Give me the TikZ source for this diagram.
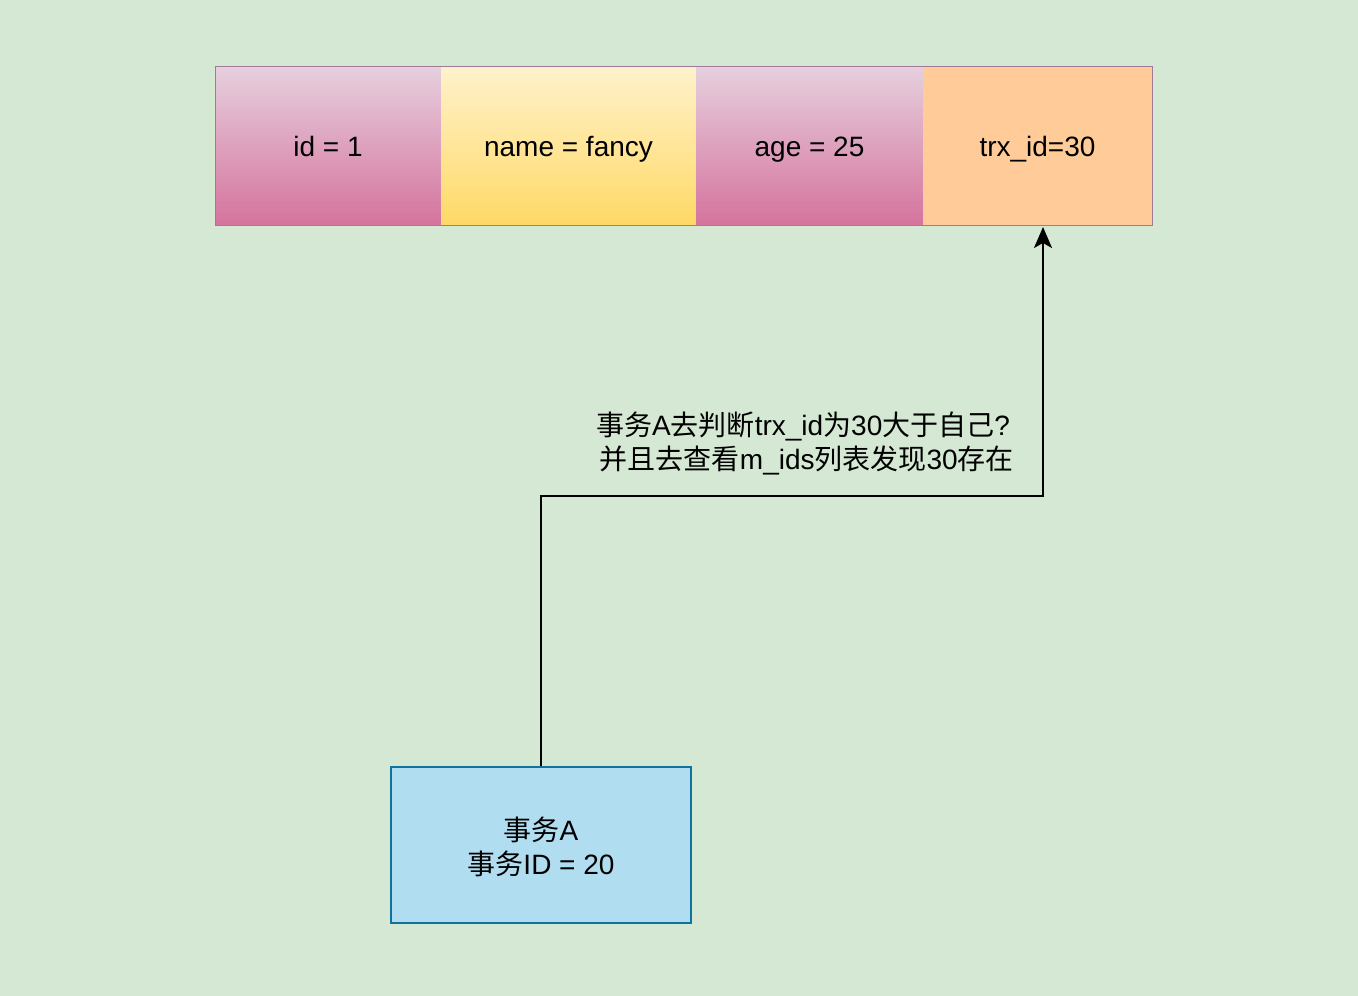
\documentclass[tikz,border=0pt]{standalone}
\usepackage{fontspec}
\setmainfont{Liberation Sans}
\newfontfamily\cjk{Noto Sans CJK SC}
\usetikzlibrary{arrows.meta,shadings}
\definecolor{bgc}{HTML}{D5E8D4}
\definecolor{pinktop}{HTML}{E6D0DE}
\definecolor{pinkbot}{HTML}{D5739D}
\definecolor{yeltop}{HTML}{FFF2CC}
\definecolor{yelbot}{HTML}{FFD966}
\definecolor{orangec}{HTML}{FFCC99}
\definecolor{rowborder}{HTML}{A07A98}
\definecolor{bluefill}{HTML}{B1DDF0}
\definecolor{bluedraw}{HTML}{10739E}
\tikzset{
  cell/.style={rectangle, inner sep=0pt, minimum height=159pt, text height=24pt, text depth=3pt, font=\fontsize{28}{34}\selectfont, text=black},
  pinkcell/.style={cell, top color=pinktop, bottom color=pinkbot},
  yelcell/.style={cell, top color=yeltop, bottom color=yelbot},
  orcell/.style={cell, fill=orangec},
  txbox/.style={rectangle, inner sep=0pt, fill=bluefill, draw=bluedraw, line width=2pt, minimum width=300pt, minimum height=156pt},
  lbl/.style={align=center, inner sep=0pt, font=\fontsize{28}{34}\selectfont},
  conn/.style={line width=2pt, -{Stealth[length=21pt,width=18pt,inset=5pt]}}
}
\begin{document}
\begin{tikzpicture}[x=1pt,y=-1pt]
\fill[bgc] (0,0) rectangle (1358,996);
\useasboundingbox (0,0) rectangle (1358,996);
\node[pinkcell, minimum width=226pt] (c1) at (328,145.5) {id = 1};
\node[yelcell, minimum width=255pt] (c2) at (568.5,145.5) {name = fancy};
\node[pinkcell, minimum width=227pt] (c3) at (809.5,145.5) {age = 25};
\node[orcell, minimum width=229pt] (c4) at (1037.5,145.5) {trx\_id=30};
\draw[rowborder, line width=1pt] (215,66) rectangle (1152,225);
\node[txbox] (ta) at (541,845) {};
\node[lbl] (tatext) at (541,847) {{\cjk 事务}A\\{\cjk 事务}ID = 20};
\coordinate (b1) at (541,496);
\coordinate (b2) at (1043,496);
\coordinate (tip) at (1043,227);
\draw[conn] (ta.north) -- (b1) -- (b2) -- (tip);
\node[lbl] (note) at (803,443) {{\cjk 事务}A{\cjk 去判断}trx\_id{\cjk 为}30{\cjk 大于自己}?\\\ {\cjk 并且去查看}m\_ids{\cjk 列表发现}30{\cjk 存在}};
\end{tikzpicture}
\end{document}
